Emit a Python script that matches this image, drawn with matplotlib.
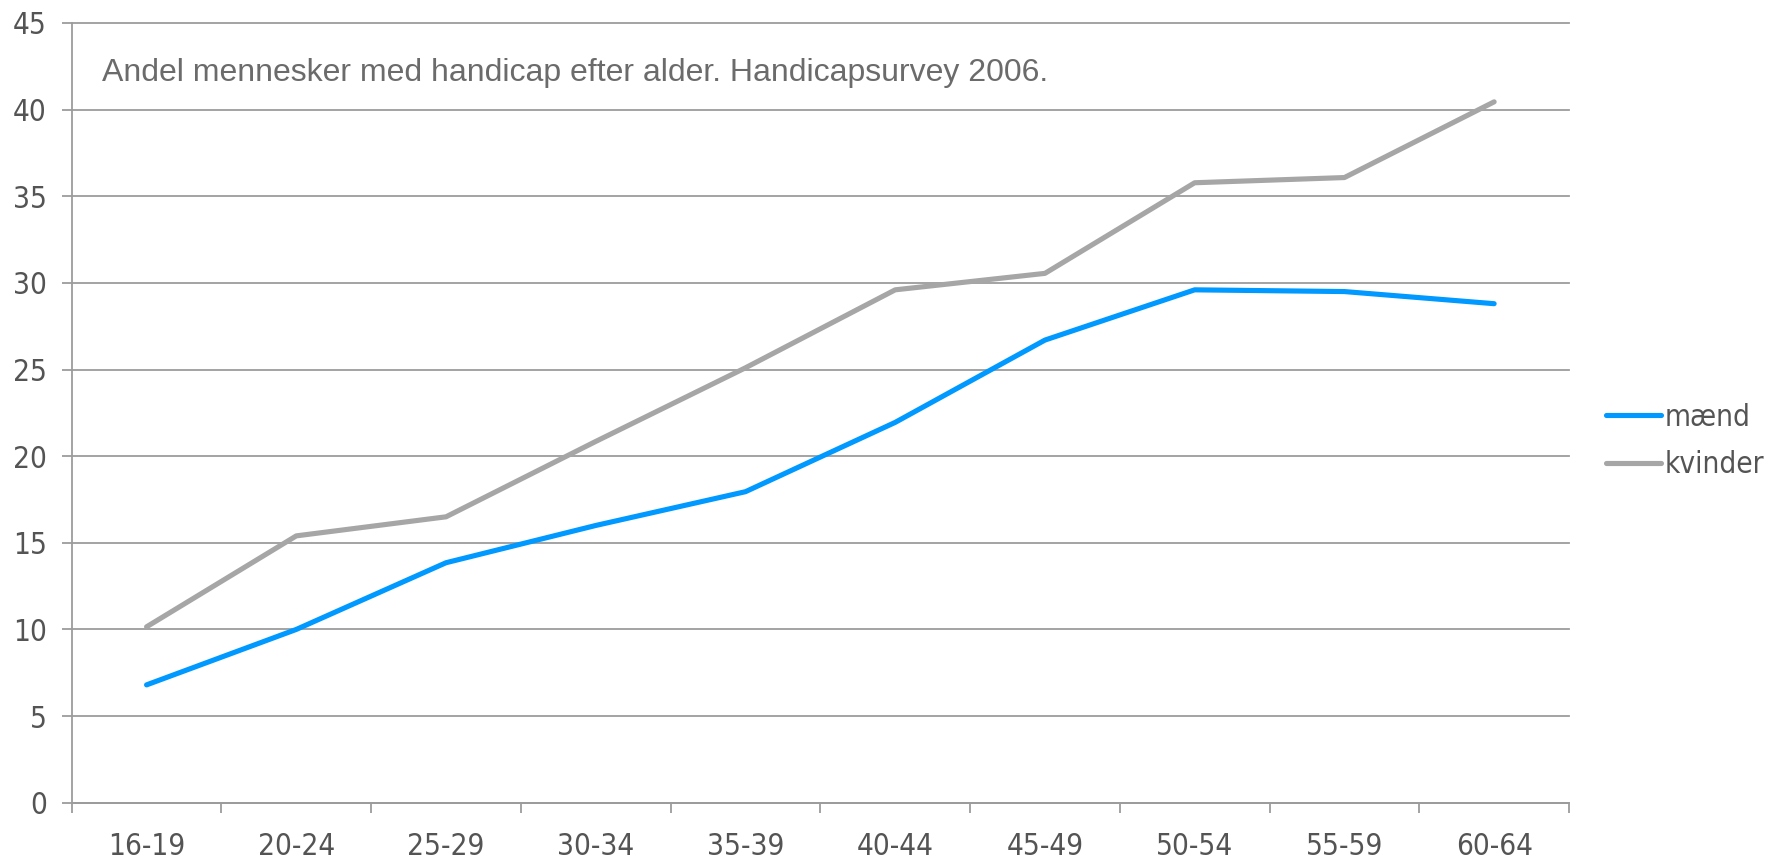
import matplotlib
matplotlib.use("Agg")
import matplotlib.pyplot as plt
from matplotlib.font_manager import FontProperties
import numpy as np

# Age groups and share of people with a handicap (%)
age_groups = ["16-19", "20-24", "25-29", "30-34", "35-39",
              "40-44", "45-49", "50-54", "55-59", "60-64"]
maend = [6.8, 10.0, 13.85, 16.0, 17.95, 21.95, 26.7, 29.6, 29.5, 28.8]
kvinder = [10.15, 15.4, 16.5, 20.85, 25.1, 29.6, 30.55, 35.78, 36.08, 40.45]
y_ticks = [0, 5, 10, 15, 20, 25, 30, 35, 40, 45]
title_text = "Andel mennesker med handicap efter alder. Handicapsurvey 2006."

BLUE = "#0099FF"
GRAY_LINE = "#A6A6A6"
GRID = "#9C9C9C"
TEXT = "#545454"

tick_font = FontProperties(family="DejaVu Sans", stretch="condensed", size=21.3)

fig = plt.figure(figsize=(17.8, 8.6), dpi=100)
ax = fig.add_axes([71.7 / 1780, 1 - 802.7 / 860,
                   (1569 - 71.7) / 1780, (802.7 - 23) / 860])

x = np.arange(len(age_groups))
ax.plot(x, maend, color=BLUE, lw=3.7, solid_capstyle="round",
        solid_joinstyle="round", label="mænd", zorder=3)
ax.plot(x, kvinder, color=GRAY_LINE, lw=3.7, solid_capstyle="round",
        solid_joinstyle="round", label="kvinder", zorder=3)

ax.set_xlim(-0.5, len(age_groups) - 0.5)
ax.set_ylim(0, 45)

# y axis
ax.set_yticks(y_ticks)
ax.set_yticklabels([str(v) for v in y_ticks])
ax.yaxis.grid(True, color=GRID, lw=1.3)
for gl in ax.yaxis.get_gridlines():
    gl.set_clip_on(False)
ax.set_axisbelow(True)

# x axis: tick marks between categories, labels centred
ax.set_xticks(np.arange(-0.5, len(age_groups)), minor=False)
ax.set_xticklabels([])
ax.set_xticks(x, minor=True)
ax.set_xticklabels(age_groups, minor=True)
ax.tick_params(axis="x", which="major", length=7, width=1.3, color=GRID,
               direction="out")
ax.tick_params(axis="x", which="minor", length=0, pad=21, labelcolor=TEXT)
ax.tick_params(axis="y", length=7, width=1.3, color=GRID, pad=11,
               labelcolor=TEXT)

for s in ["top", "right"]:
    ax.spines[s].set_visible(False)
for s in ["left", "bottom"]:
    ax.spines[s].set_color(GRID)
    ax.spines[s].set_linewidth(1.3)

for lbl in ax.get_yticklabels() + ax.get_xticklabels(minor=True):
    lbl.set_fontproperties(tick_font)

fig.text(101.5 / 1780, 1 - 80.7 / 860, title_text, ha="left", va="baseline",
         fontsize=23.0, color="#6B6B6B", family="Liberation Sans")

leg = fig.legend(loc="center left", bbox_to_anchor=(1606 / 1780, 1 - 441 / 860),
                 frameon=False, prop=tick_font, handlelength=1.85,
                 handletextpad=0.12, labelspacing=0.62, borderpad=0,
                 borderaxespad=0)
for t in leg.get_texts():
    t.set_color(TEXT)

fig.savefig("out.png", dpi=100)
